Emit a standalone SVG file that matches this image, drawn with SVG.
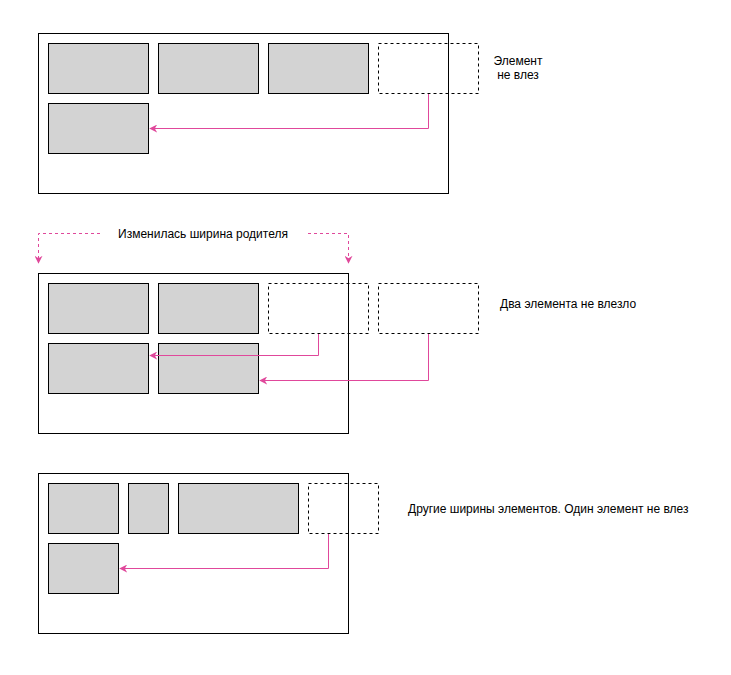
<svg xmlns="http://www.w3.org/2000/svg" width="731" height="675" viewBox="0 0 731 675">
<defs>
<style>
.c{fill:#fff;stroke:#000;stroke-width:1}
.b{fill:#d3d3d3;stroke:#000;stroke-width:1}
.d{fill:none;stroke:#000;stroke-width:1;stroke-dasharray:3 3}
.a{fill:none;stroke:#e0489b;stroke-width:1}
.ad{fill:none;stroke:#e0489b;stroke-width:1;stroke-dasharray:3 3}
.t{font-family:"Liberation Sans",Arial,sans-serif;font-size:12px;fill:#000}
</style>
<marker id="ah" viewBox="0 0 10 10" refX="9" refY="5" markerWidth="8" markerHeight="8" markerUnits="userSpaceOnUse" orient="auto">
<path d="M0,0 L10,5 L0,10 L3,5 Z" fill="#e0489b"/>
</marker>
</defs>
<rect width="731" height="675" fill="#fff"/>
<g id="s1">
<rect class="c" x="38.5" y="33.5" width="410" height="160"/>
<g id="s1b1"><rect class="b" x="48.5" y="43.5" width="100" height="50"/></g>
<g id="s1b2"><rect class="b" x="158.5" y="43.5" width="100" height="50"/></g>
<g id="s1b3"><rect class="b" x="268.5" y="43.5" width="100" height="50"/></g>
<g id="s1b4"><rect class="d" x="378.5" y="43.5" width="100" height="50"/></g>
<g id="s1b5"><rect class="b" x="48.5" y="103.5" width="100" height="50"/></g>
<g id="s1t"><text class="t" x="518" y="65" text-anchor="middle">Элемент</text><text class="t" x="518" y="79" text-anchor="middle">не влез</text></g>
</g>
<g id="s2">
<rect class="c" x="38.5" y="273.5" width="310" height="160"/>
<g id="s2b1"><rect class="b" x="48.5" y="283.5" width="100" height="50"/></g>
<g id="s2b2"><rect class="b" x="158.5" y="283.5" width="100" height="50"/></g>
<g id="s2b3"><rect class="d" x="268.5" y="283.5" width="100" height="50"/></g>
<g id="s2b4"><rect class="d" x="378.5" y="283.5" width="100" height="50"/></g>
<g id="s2b5"><rect class="b" x="48.5" y="343.5" width="100" height="50"/></g>
<g id="s2b6"><rect class="b" x="158.5" y="343.5" width="100" height="50"/></g>
<g id="s2t"><text class="t" x="500" y="308">Два элемента не влезло</text></g>
<g id="s2top"><text class="t" x="203" y="238" text-anchor="middle">Изменилась ширина родителя</text></g>
</g>
<g id="s3">
<rect class="c" x="38.5" y="473.5" width="310" height="160"/>
<g id="s3b1"><rect class="b" x="48.5" y="483.5" width="70" height="50"/></g>
<g id="s3b2"><rect class="b" x="128.5" y="483.5" width="40" height="50"/></g>
<g id="s3b3"><rect class="b" x="178.5" y="483.5" width="120" height="50"/></g>
<g id="s3b4"><rect class="d" x="308.5" y="483.5" width="70" height="50"/></g>
<g id="s3b5"><rect class="b" x="48.5" y="543.5" width="70" height="50"/></g>
<g id="s3t"><text class="t" x="408" y="513">Другие ширины элементов. Один элемент не влез</text></g>
</g>
<g id="connectors">
<path class="a" d="M428.5,94 V128.5 H150" marker-end="url(#ah)"/>
<path class="a" d="M318.5,334 V355.5 H150" marker-end="url(#ah)"/>
<path class="a" d="M428.5,334 V380.5 H260" marker-end="url(#ah)"/>
<path class="a" d="M328.5,534 V568.5 H120" marker-end="url(#ah)"/>
<path class="ad" d="M100,233.5 H38.5 V263" marker-end="url(#ah)"/>
<path class="ad" d="M308,233.5 H348.5 V263" marker-end="url(#ah)"/>
</g>
</svg>
